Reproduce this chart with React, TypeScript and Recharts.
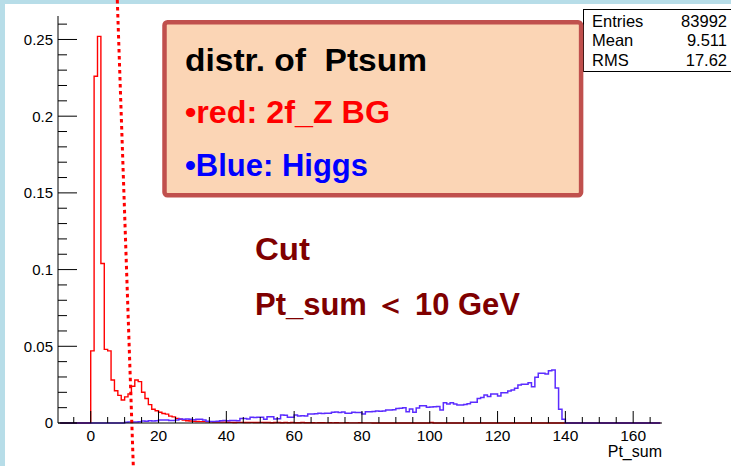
import React from "react";
import { LineChart, Line, XAxis, YAxis, ReferenceLine } from "recharts";

// Histogram bins of width 1 GeV; index i covers [i, i+1)
const redValues = [
  0.047, 0.226, 0.252, 0.104, 0.048, 0.047, 0.028, 0.021, 0.018, 0.015,
  0.017, 0.019, 0.024, 0.028, 0.027, 0.020, 0.016, 0.012, 0.009, 0.008,
  0.007, 0.0062, 0.0058, 0.0045, 0.004, 0.003, 0.0024, 0.002, 0.0015, 0.0013,
  0.0011, 0.001, 0.0009, 0.0009, 0.0008, 0.0008, 0.0007, 0.0007, 0.0006, 0.0006,
  0.0005, 0.0004, 0.0003, 0.0004, 0.0004, 0.0003, 0.0003, 0.0004, 0.0003, 0.0003,
  0.0004, 0.0003, 0.0003, 0.0002, 0.0003, 0.0003, 0.0002, 0.0003, 0.0002, 0.0003,
  0.0002, 0.0002, 0.0003, 0.0002, 0.0002, 0.0002, 0.0001, 0.0002, 0.0002, 0.0001,
  0.0002, 0.0001, 0.0002, 0.0001, 0.0001, 0.0002, 0.0001, 0.0001, 0.0001, 0.0002,
  0.0001, 0.0001, 0.0001, 0, 0, 0, 0, 0, 0, 0,
  0, 0, 0, 0, 0, 0, 0, 0, 0, 0,
  0.0003,
];

const blueValues = [
  0, 0, 0, 0, 0, 0, 0, 0, 0, 0,
  0.0005, 0.0006, 0.0006, 0.0007, 0.0008, 0.0013, 0.0012, 0.0014, 0.0013, 0.0015,
  0.0019, 0.002, 0.0019, 0.0016, 0.0017, 0.002, 0.0026, 0.0025, 0.0026, 0.0024,
  0.0022, 0.0024, 0.0024, 0.002, 0.0012, 0.001, 0.001, 0.0011, 0.0015, 0.0016,
  0.0015, 0.0017, 0.0016, 0.0015, 0.003, 0.0029, 0.0026, 0.0037, 0.0036, 0.0038,
  0.0037, 0.0025, 0.0041, 0.004, 0.0026, 0.0027, 0.0052, 0.0051, 0.0037, 0.0038,
  0.0052, 0.0046, 0.0047, 0.0046, 0.0059, 0.0058, 0.006, 0.0063, 0.0062, 0.0064,
  0.0063, 0.007, 0.0072, 0.0069, 0.0071, 0.0063, 0.0064, 0.007, 0.0068, 0.0069,
  0.0059, 0.0074, 0.0073, 0.0075, 0.0078, 0.0077, 0.0078, 0.0085, 0.0084, 0.0086,
  0.0095, 0.0096, 0.01, 0.0073, 0.0091, 0.007, 0.0098, 0.0113, 0.0113, 0.0102,
  0.0104, 0.0106, 0.0107, 0.0085, 0.0132, 0.0124, 0.0132, 0.0124, 0.0117, 0.0117,
  0.0121, 0.0126, 0.0135, 0.0135, 0.016, 0.0166, 0.0183, 0.0172, 0.0189, 0.0189,
  0.0176, 0.0198, 0.0198, 0.0208, 0.0215, 0.0226, 0.0248, 0.0252, 0.0252, 0.0263,
  0.0237, 0.0298, 0.0324, 0.0324, 0.032, 0.0341, 0.0345, 0.0228, 0.0089, 0.0024,
  0,
];

const xTicks = [-5, 0, 5, 10, 15, 20, 25, 30, 35, 40, 45, 50, 55, 60, 65, 70, 75, 80, 85, 90, 95, 100, 105, 110, 115, 120, 125, 130, 135, 140, 145, 150, 155, 160, 165];
const xMajorTicks = [0, 20, 40, 60, 80, 100, 120, 140, 160];
const yTicks = [0, 0.01, 0.02, 0.03, 0.04, 0.05, 0.06, 0.07, 0.08, 0.09, 0.1, 0.11, 0.12, 0.13, 0.14, 0.15, 0.16, 0.17, 0.18, 0.19, 0.2, 0.21, 0.22, 0.23, 0.24, 0.25, 0.26];
const yMajorTicks = [0, 0.05, 0.1, 0.15, 0.2, 0.25];
const xDomain = [-9.65, 168.5];
const yDomain = [0, 0.2653];
const xFirst = -9;
const xLast = 168;

const xTitle = "Pt_sum";
const statsLabels = ["Entries", "Mean", "RMS"];
const statsValues = ["83992", "9.511", "17.62"];
const boxLines = ["distr. of  Ptsum", "\u2022red: 2f_Z BG", "\u2022Blue: Higgs"];
const boxColors = ["#000000", "#ff0000", "#0000ff"];
const boxWidths = [242, 205, 183];
const cutLines = ["Cut", "Pt_sum \uFF1C 10 GeV"];
const cutWidths = [55, 265];
const cutMarker = [
  { x: 7.84, y: 0.2757 },
  { x: 12.56, y: -0.028 },
];

const rows: { x: number; red: number; blue: number }[] = [];
for (let x = xFirst; x <= xLast; x++) {
  rows.push({
    x,
    red: x >= 0 && x < redValues.length ? redValues[x] : 0,
    blue: x >= 0 && x < blueValues.length ? blueValues[x] : 0,
  });
}

const FONT = "'Liberation Sans', Arial, Helvetica, sans-serif";

const XTick = (props: any) => {
  const { x, y, payload } = props;
  const v = payload.value;
  const major = xMajorTicks.includes(v);
  return (
    <g>
      <line x1={x} x2={x} y1={y} y2={y - (major ? 12 : 6)} stroke="#000" strokeWidth={1} />
      {major && (
        <text x={x} y={y + 18} textAnchor="middle" fontSize={15.5} fontFamily={FONT} fill="#000">
          {String(v)}
        </text>
      )}
    </g>
  );
};

const YTick = (props: any) => {
  const { x, y, payload } = props;
  const v = payload.value;
  const major = yMajorTicks.some((m) => Math.abs(m - v) < 1e-9);
  return (
    <g>
      <line x1={x} x2={x + (major ? 19 : 9)} y1={y} y2={y} stroke="#000" strokeWidth={1} />
      {major && (
        <text x={x - 5} y={y} dy="0.36em" textAnchor="end" fontSize={15} fontFamily={FONT} fill="#000">
          {String(v)}
        </text>
      )}
    </g>
  );
};

export default function App() {
  return (
    <div
      style={{
        position: "absolute",
        left: 0,
        top: 0,
        width: 731,
        height: 466,
        overflow: "hidden",
        background: "#b7dde8",
      }}
    >
      <div style={{ position: "absolute", left: 5, top: 4, right: 0, bottom: 0, background: "#ffffff" }} />
      <div style={{ position: "absolute", left: 0, top: 0 }}>
        <LineChart width={731} height={466} data={rows} margin={{ top: 16, right: 69, bottom: 0, left: 0 }}>
          <XAxis
            dataKey="x"
            type="number"
            domain={xDomain}
            ticks={xTicks}
            interval={0}
            height={43}
            tickSize={0}
            tickMargin={0}
            tickLine={false}
            axisLine={{ stroke: "#000" }}
            tick={<XTick />}
          />
          <XAxis xAxisId="top" dataKey="x" type="number" domain={xDomain} orientation="top" height={0} tick={false} tickLine={false} axisLine={{ stroke: "#000" }} />
          <YAxis
            type="number"
            domain={yDomain}
            ticks={yTicks}
            interval={0}
            width={58}
            tickSize={0}
            tickMargin={0}
            tickLine={false}
            axisLine={{ stroke: "#000" }}
            tick={<YTick />}
          />
          <YAxis yAxisId="right" type="number" domain={yDomain} orientation="right" width={0} tick={false} tickLine={false} axisLine={{ stroke: "#000" }} />
          <Line type="stepAfter" dataKey="red" stroke="#ff0000" strokeWidth={1.4} dot={false} activeDot={false} isAnimationActive={false} />
          <Line type="stepAfter" dataKey="blue" stroke="#5b2cff" strokeWidth={1.5} dot={false} activeDot={false} isAnimationActive={false} />
          <ReferenceLine segment={cutMarker} stroke="#ff0000" strokeWidth={3} strokeDasharray="3.5 3.5" ifOverflow="visible" />
        </LineChart>
      </div>
      <svg width={731} height={466} style={{ position: "absolute", left: 0, top: 0, pointerEvents: "none" }}>
        <text x={662} y={457} textAnchor="end" fontSize={16} fontFamily={FONT} fill="#000">
          {xTitle}
        </text>
        <rect x={583.5} y={9.5} width={160} height={62} fill="#ffffff" stroke="#000" strokeWidth={1} />
        {statsLabels.map((l, i) => (
          <g key={l}>
            <text x={592} y={26.5 + i * 19.8} fontSize={16.5} fontFamily={FONT} fill="#000">
              {l}
            </text>
            <text x={727} y={26.5 + i * 19.8} textAnchor="end" fontSize={16.5} fontFamily={FONT} fill="#000">
              {statsValues[i]}
            </text>
          </g>
        ))}
        <rect x={164.5} y={22.2} width={416.6} height={173} rx={3} fill="#fbd5b5" stroke="#c0504d" strokeWidth={4.5} />
        {boxLines.map((l, i) => (
          <text
            key={l}
            x={185}
            y={71 + i * 52.3}
            fontSize={31}
            fontWeight="bold"
            fontFamily={FONT}
            fill={boxColors[i]}
            textLength={boxWidths[i]}
            lengthAdjust="spacingAndGlyphs"
            style={{ whiteSpace: "pre" }}
          >
            {l}
          </text>
        ))}
        {cutLines.map((l, i) => (
          <text
            key={l}
            x={255}
            y={260 + i * 55}
            fontSize={31}
            fontWeight="bold"
            fontFamily={FONT}
            fill="#7f0000"
            textLength={cutWidths[i]}
            lengthAdjust="spacingAndGlyphs"
            style={{ whiteSpace: "pre" }}
          >
            {l}
          </text>
        ))}
      </svg>
    </div>
  );
}
